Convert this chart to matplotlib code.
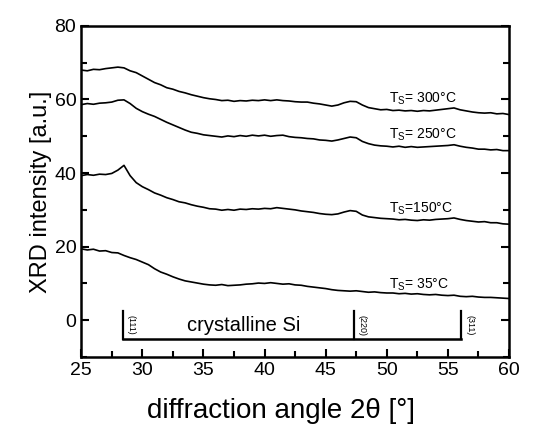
import numpy as np
import matplotlib
matplotlib.use("Agg")
import matplotlib.pyplot as plt
from matplotlib.ticker import MultipleLocator

plt.rcParams['font.family'] = ['Liberation Sans', 'DejaVu Sans']
plt.rcParams['mathtext.fontset'] = 'custom'
plt.rcParams['mathtext.rm'] = 'Liberation Sans'

# 2theta grid (deg)
two_theta = np.arange(25.0, 60.01, 0.5)

# XRD intensity [a.u.]
i_300 = [68.0, 67.8, 68.2, 68.1, 68.4, 68.6, 68.8, 68.6, 67.8, 67.3,
         66.4, 65.5, 64.6, 64.0, 63.2, 62.8, 62.2, 61.8, 61.3, 60.9,
         60.5, 60.2, 60.0, 59.7, 59.8, 59.5, 59.7, 59.6, 59.8, 59.7,
         59.9, 59.7, 59.9, 59.7, 59.6, 59.4, 59.3, 59.3, 59.0, 58.8,
         58.5, 58.2, 58.5, 59.1, 59.5, 59.4, 58.5, 57.8, 57.5, 57.2,
         57.3, 57.0, 57.1, 56.9, 57.0, 56.8, 57.0, 56.9, 57.1, 57.3,
         57.5, 57.7, 57.2, 56.9, 56.6, 56.4, 56.3, 56.4, 56.1, 56.2, 55.9]
i_250 = [58.6, 58.9, 58.7, 59.0, 59.1, 59.3, 59.8, 59.9, 58.9, 57.6,
         56.7, 56.0, 55.4, 54.6, 53.8, 53.1, 52.4, 51.7, 51.1, 50.8,
         50.4, 50.2, 50.0, 49.8, 50.1, 49.9, 50.2, 50.0, 50.3, 50.1,
         50.3, 50.0, 50.2, 50.3, 49.9, 49.7, 49.6, 49.4, 49.3, 49.0,
         48.9, 48.7, 49.0, 49.4, 49.8, 49.6, 48.6, 48.0, 47.6, 47.4,
         47.3, 47.1, 47.3, 47.0, 47.2, 47.0, 47.1, 47.2, 47.3, 47.4,
         47.5, 47.7, 47.3, 47.0, 46.8, 46.5, 46.5, 46.3, 46.4, 46.1, 46.1]
i_150 = [39.3, 39.6, 39.4, 39.7, 39.6, 39.9, 40.8, 42.1, 39.3, 37.4,
         36.3, 35.5, 34.6, 34.0, 33.3, 32.8, 32.2, 31.9, 31.4, 31.0,
         30.7, 30.3, 30.2, 29.9, 30.1, 29.9, 30.2, 30.1, 30.3, 30.2,
         30.4, 30.3, 30.6, 30.4, 30.2, 30.0, 29.7, 29.5, 29.3, 29.0,
         28.8, 28.7, 28.9, 29.4, 29.8, 29.6, 28.6, 28.1, 27.9, 27.7,
         27.6, 27.5, 27.3, 27.4, 27.2, 27.1, 27.3, 27.2, 27.4, 27.5,
         27.6, 27.8, 27.4, 27.1, 26.9, 26.7, 26.8, 26.5, 26.5, 26.2, 26.1]
i_35 = [19.4, 19.1, 19.3, 18.8, 18.9, 18.4, 18.3, 17.6, 17.0, 16.5,
        15.8, 15.1, 14.0, 13.1, 12.5, 11.8, 11.2, 10.7, 10.4, 10.1,
        9.8, 9.6, 9.5, 9.7, 9.4, 9.5, 9.6, 9.8, 9.9, 10.1,
        10.0, 10.2, 10.0, 9.8, 9.9, 9.6, 9.5, 9.2, 9.0, 8.8,
        8.6, 8.3, 8.1, 8.0, 7.9, 8.0, 7.8, 7.6, 7.7, 7.5,
        7.4, 7.4, 7.2, 7.3, 7.1, 7.2, 7.0, 6.9, 7.0, 6.8,
        6.7, 6.8, 6.5, 6.4, 6.5, 6.3, 6.2, 6.2, 6.1, 6.0, 5.9]

curves = [i_300, i_250, i_150, i_35]
curve_labels = ["T$_\\mathregular{S}$= 300°C", "T$_\\mathregular{S}$= 250°C",
                "T$_\\mathregular{S}$=150°C", "T$_\\mathregular{S}$= 35°C"]
label_y = [60.3, 50.3, 30.4, 9.6]

# crystalline Si reflections
si_pos = [28.4, 47.3, 56.1]
si_hkl = ["(111)", "(220)", "(311)"]

fig = plt.figure(figsize=(5.45, 4.25), dpi=100)
ax = fig.add_axes([0.149, 0.16, 0.785, 0.779])

for c in curves:
    ax.plot(two_theta, c, color='black', lw=1.2)

for txt, yy in zip(curve_labels, label_y):
    ax.text(50.2, yy, txt, fontsize=10, va='center', ha='left')

# reference bracket for crystalline Si
ax.plot([si_pos[0], si_pos[-1]], [-5.2, -5.2], color='black', lw=1.8)
for p, hkl in zip(si_pos, si_hkl):
    ax.plot([p, p], [-5.2, 2.4], color='black', lw=1.6)
    ax.text(p + 0.3, -1.4, hkl, fontsize=6.5, rotation=-90, va='center', ha='left')
ax.text(38.3, -1.4, "crystalline Si", fontsize=14.5, ha='center', va='center')

ax.set_xlim(25, 60)
ax.set_ylim(-10, 80)
ax.xaxis.set_major_locator(MultipleLocator(5))
ax.xaxis.set_minor_locator(MultipleLocator(2.5))
ax.yaxis.set_major_locator(MultipleLocator(20))
ax.yaxis.set_minor_locator(MultipleLocator(10))
ax.tick_params(which='both', direction='in', right=True, top=False, width=1.5, labelsize=14)
ax.tick_params(which='major', length=6)
ax.tick_params(which='minor', length=4)
for s in ax.spines.values():
    s.set_linewidth(1.8)

ax.set_xlabel("diffraction angle 2θ [°]", fontsize=20)
ax.xaxis.set_label_coords(0.467, -0.125)
ax.set_ylabel("XRD intensity [a.u.]", fontsize=17, labelpad=2)

fig.savefig("out.png", dpi=100)
